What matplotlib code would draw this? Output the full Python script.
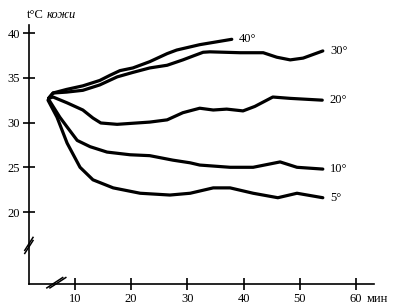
import matplotlib.pyplot as plt

# minutes and skin temperature for each ambient temperature
t40 = [5.3, 6.1, 8.5, 11.4, 14.4, 16.3, 18.0, 20.3, 23.3, 26.4, 28.1, 32.2, 37.9]
T40 = [32.7, 33.3, 33.7, 34.1, 34.7, 35.3, 35.8, 36.1, 36.8, 37.7, 38.1, 38.7, 39.3]

t30 = [5.3, 6.1, 8.5, 11.4, 14.4, 17.5, 20.3, 23.3, 26.4, 29.2, 31.3, 32.8, 34.0, 39.4, 43.5, 45.9, 48.3, 50.6, 54.1]
T30 = [32.7, 33.3, 33.4, 33.6, 34.2, 35.1, 35.6, 36.1, 36.4, 37.0, 37.5, 37.85, 37.9, 37.8, 37.8, 37.3, 37.0, 37.2, 38.0]

t20 = [5.3, 6.1, 8.6, 11.4, 13.2, 14.6, 17.5, 23.3, 26.4, 29.2, 32.2, 34.6, 37.0, 39.9, 42.0, 45.2, 48.3, 54.0]
T20 = [32.7, 32.85, 32.2, 31.4, 30.5, 29.95, 29.8, 30.05, 30.3, 31.1, 31.6, 31.4, 31.5, 31.3, 31.8, 32.85, 32.7, 32.5]

t10 = [5.3, 7.3, 8.6, 10.4, 12.7, 15.7, 19.8, 23.3, 27.4, 30.5, 32.2, 37.6, 41.7, 46.5, 49.5, 54.1]
T10 = [32.6, 30.6, 29.5, 28.0, 27.3, 26.7, 26.4, 26.3, 25.8, 25.5, 25.25, 25.0, 25.0, 25.6, 25.0, 24.8]

t5 = [5.2, 6.8, 8.6, 10.9, 13.2, 16.8, 21.6, 26.9, 30.5, 34.6, 37.6, 41.7, 46.1, 49.5, 54.1]
T5 = [32.5, 30.6, 27.7, 25.0, 23.6, 22.7, 22.1, 21.9, 22.1, 22.7, 22.7, 22.1, 21.6, 22.1, 21.6]

curvas = [(t40, T40, '40°'), (t30, T30, '30°'), (t20, T20, '20°'), (t10, T10, '10°'), (t5, T5, '5°')]

xticks = [10, 20, 30, 40, 50, 60]
yticks = [20, 25, 30, 35, 40]

plt.rcParams['font.family'] = ['Liberation Serif', 'DejaVu Serif']

fig = plt.figure(figsize=(3.98, 3.08), dpi=100)
ax = fig.add_axes([0.0726, 0.0779, 0.867, 0.841])

for t, T, lab in curvas:
    ax.plot(t, T, color='black', lw=2.3, solid_capstyle='round', solid_joinstyle='round')
    ax.text(t[-1] + 1.3, T[-1], lab, fontsize=9, va='center', ha='left')

ax.set_xlim(1.8, 63.2)
ax.set_ylim(11.96, 40.9)
ax.spines['top'].set_visible(False)
ax.spines['right'].set_visible(False)
ax.spines['left'].set_linewidth(1.2)
ax.spines['bottom'].set_linewidth(1.2)
ax.set_xticks(xticks)
ax.set_yticks(yticks)
ax.tick_params(direction='inout', length=9, width=1.2, labelsize=9, pad=2)

# cortes de los ejes
kw = dict(transform=ax.transAxes, color='black', lw=1.1, clip_on=False)
for d in [0, 0.012]:
    ax.plot([-0.012, 0.012], [0.118 + d, 0.168 + d], **kw)
for d in [0, 0.009]:
    ax.plot([0.052 + d, 0.098 + d], [-0.015, 0.025], **kw)

fig.text(0.068, 0.952, 't°C', fontsize=9, ha='left', va='center')
fig.text(0.118, 0.952, 'кожи', fontsize=9, style='italic', ha='left', va='center')
fig.text(0.922, 0.028, 'мин', fontsize=9, ha='left', va='center')

fig.savefig('out.png')
